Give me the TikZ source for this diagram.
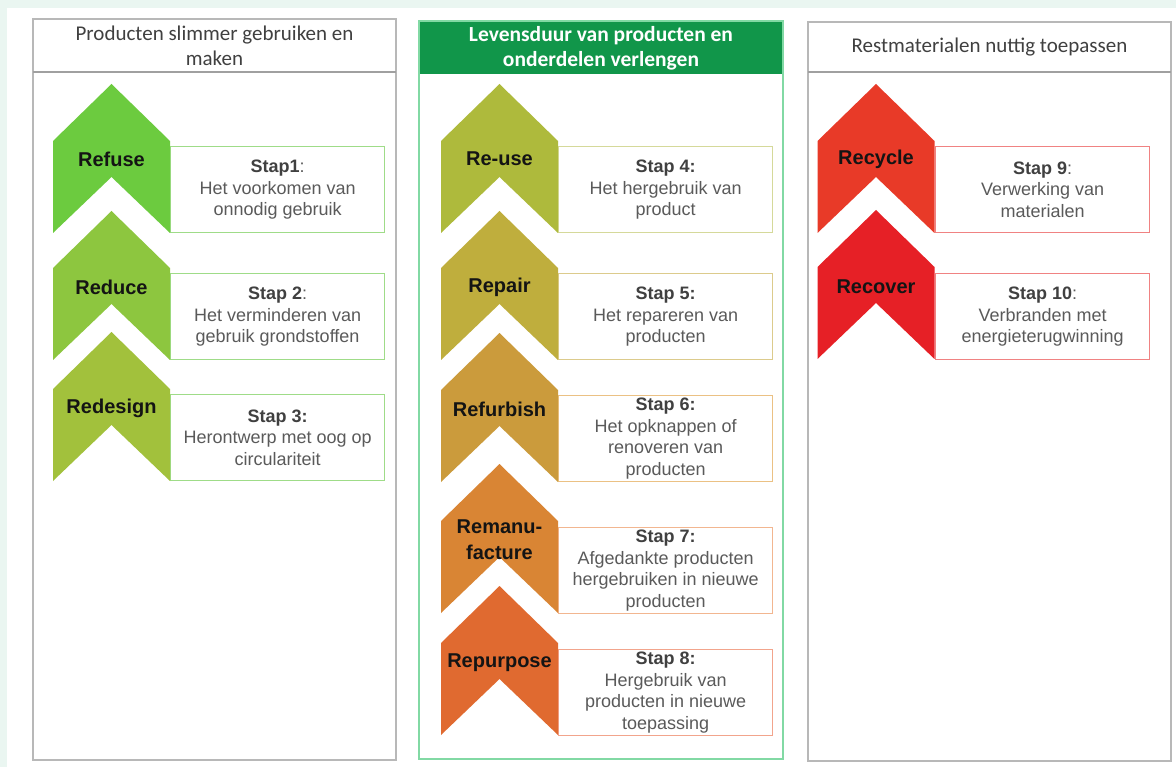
\documentclass[tikz,border=0pt]{standalone}
\usepackage{fontspec}
\setmainfont{Liberation Sans}
\newfontfamily\calibri{Carlito}
\definecolor{mint}{HTML}{EAF6F1}
\definecolor{frame}{HTML}{B8B8B8}
\definecolor{sep}{HTML}{A0A0A0}
\definecolor{hdrgreen}{HTML}{11964A}
\definecolor{frgreen}{HTML}{82D9A4}
\definecolor{bodytxt}{HTML}{5A5A5A}
\definecolor{staptxt}{HTML}{404040}
\definecolor{cRefuse}{HTML}{6CCB3F}
\definecolor{cReduce}{HTML}{8DC63F}
\definecolor{cRedesign}{HTML}{A2C13C}
\definecolor{cReuse}{HTML}{AEBA3C}
\definecolor{cRepair}{HTML}{BFAE3D}
\definecolor{cRefurbish}{HTML}{CB9B3C}
\definecolor{cRemanu}{HTML}{D98534}
\definecolor{cRepurpose}{HTML}{E06A30}
\definecolor{cRecycle}{HTML}{E83A28}
\definecolor{cRecover}{HTML}{E62026}
\definecolor{bGreen}{HTML}{9FDC88}
\definecolor{bReuse}{HTML}{D5D99A}
\definecolor{bRepair}{HTML}{DCCB8C}
\definecolor{bRefurbish}{HTML}{EBC184}
\definecolor{bRemanu}{HTML}{F2B690}
\definecolor{bRepurpose}{HTML}{F2A48C}
\definecolor{bRed}{HTML}{F08282}
\tikzset{
  pics/chev/.style={code={
    \fill[#1] (0,0) -- (58.5,57) -- (58.5,149) -- (0,93) -- (-58.5,149) -- (-58.5,57) -- cycle;}},
  colframe/.style={draw=frame, line width=1.6pt},
  hdrtxt/.style={font=\calibri\fontsize{21}{25}\selectfont, text=black!75, align=center},
  chevlbl/.style={font=\bfseries\fontsize{20}{26}\selectfont, text=black!92, align=center},
  stepbox/.style={draw=#1, line width=1.2pt, minimum width=214pt, minimum height=86pt,
    anchor=north west, inner sep=0pt, align=center, text=bodytxt,
    font=\fontsize{18}{21.7}\selectfont},
}
\newcommand\stp[1]{\textcolor{staptxt}{\textbf{#1}}}
\begin{document}
\begin{tikzpicture}[x=1pt,y=-1pt]
\useasboundingbox (0,0) rectangle (1176,767);
\fill[mint] (0,0) rectangle (1176,767);
\fill[white] (7,8) rectangle (1176,767);

% column frames
\draw[colframe] (33,19) rectangle (396,760);
\draw[sep, line width=2pt] (33,72) -- (396,72);
\node[hdrtxt] (h1) at (214.5,45.5) {Producten slimmer gebruiken en\\maken};

\fill[hdrgreen] (419,21) rectangle (783,74);
\draw[frgreen, line width=1.6pt] (419,21) rectangle (783,759);
\node[hdrtxt, font=\calibri\bfseries\fontsize{21.5}{25}\selectfont, text=white] (h2) at (601,48.5) {Levensduur van producten en\\onderdelen verlengen};

\draw[colframe] (808,22) rectangle (1171,761);
\draw[sep, line width=2pt] (808,72) -- (1171,72);
\node[hdrtxt] (h3) at (989.5,47) {Restmaterialen nuttig toepassen};

% column 1
\node[stepbox=bGreen] (b1) at (170,146) {\stp{Stap1}:\\Het voorkomen van\\onnodig gebruik};
\node[stepbox=bGreen] (b2) at (170,273) {\stp{Stap 2}:\\Het verminderen van\\gebruik grondstoffen};
\node[stepbox=bGreen] (b3) at (170,394) {\stp{Stap 3:}\\Herontwerp met oog op\\circulariteit};
\pic at (111.5,84) {chev=cRefuse};
\pic at (111.5,211) {chev=cReduce};
\pic at (111.5,332) {chev=cRedesign};
\node[chevlbl] (l1) at (111.5,159) {Refuse};
\node[chevlbl] (l2) at (111.5,287) {Reduce};
\node[chevlbl] (l3) at (111.5,408) {Redesign};

% column 2
\node[stepbox=bReuse] (b4) at (558,146) {\stp{Stap 4:}\\Het hergebruik van\\product};
\node[stepbox=bRepair] (b5) at (558,273) {\stp{Stap 5:}\\Het repareren van\\producten};
\node[stepbox=bRefurbish] (b6) at (558,395) {\stp{Stap 6:}\\Het opknappen of\\renoveren van\\producten};
\node[stepbox=bRemanu] (b7) at (558,527) {\stp{Stap 7:}\\Afgedankte producten\\hergebruiken in nieuwe\\producten};
\node[stepbox=bRepurpose] (b8) at (558,649) {\stp{Stap 8:}\\Hergebruik van\\producten in nieuwe\\toepassing};
\pic at (499.5,84) {chev=cReuse};
\pic at (499.5,211) {chev=cRepair};
\pic at (499.5,333) {chev=cRefurbish};
\pic at (499.5,464) {chev=cRemanu};
\pic at (499.5,586) {chev=cRepurpose};
\node[chevlbl] (l4) at (499.5,159) {Re-use};
\node[chevlbl] (l5) at (499.5,287) {Repair};
\node[chevlbl] (l6) at (499.5,409) {Refurbish};
\node[chevlbl] (l7) at (499.5,540) {Remanu-\\facture};
\node[chevlbl] (l8) at (499.5,663) {Repurpose};

% column 3
\node[stepbox=bRed] (b9) at (935,146) {\stp{Stap 9}:\\Verwerking van\\materialen};
\node[stepbox=bRed] (b10) at (935,273) {\stp{Stap 10}:\\Verbranden met\\energieterugwinning};
\pic at (876,84) {chev=cRecycle};
\pic at (876,210) {chev=cRecover};
\node[chevlbl] (l9) at (876,159) {Recycle};
\node[chevlbl] (l10) at (876,287) {Recover};
\end{tikzpicture}
\end{document}
